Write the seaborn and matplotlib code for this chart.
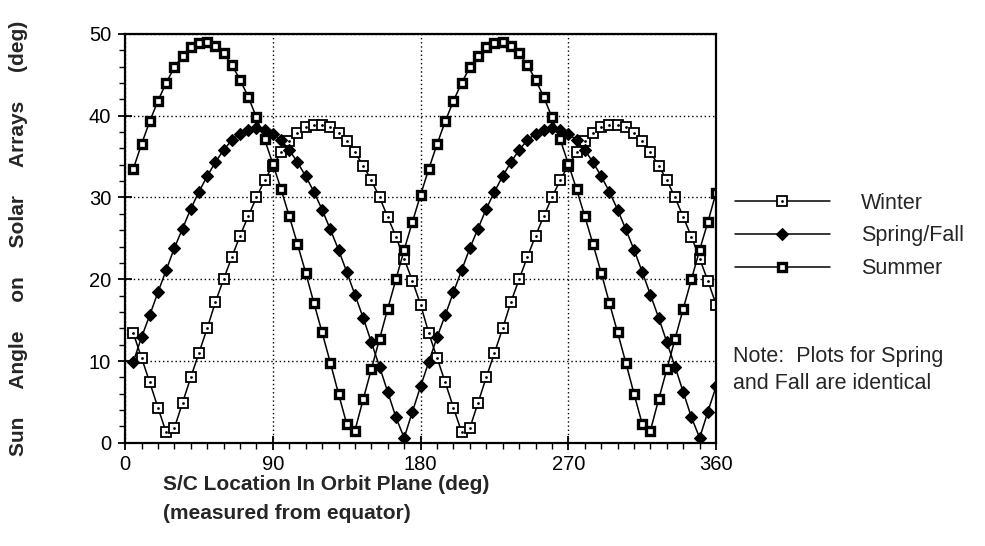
import matplotlib
matplotlib.use("Agg")
import matplotlib.pyplot as plt
import seaborn as sns

# orbit position (deg), sampled every 5 deg
angle = [5, 10, 15, 20, 25, 30, 35, 40, 45, 50, 55, 60, 65, 70, 75, 80, 85, 90,
         95, 100, 105, 110, 115, 120, 125, 130, 135, 140, 145, 150, 155, 160, 165, 170, 175, 180,
         185, 190, 195, 200, 205, 210, 215, 220, 225, 230, 235, 240, 245, 250, 255, 260, 265, 270,
         275, 280, 285, 290, 295, 300, 305, 310, 315, 320, 325, 330, 335, 340, 345, 350, 355, 360]

winter = [13.4, 10.4, 7.4, 4.3, 1.3, 1.8, 4.9, 8.0, 11.0, 14.0, 17.2, 20.0, 22.7, 25.3, 27.7, 30.0, 32.1, 33.9,
          35.5, 36.9, 37.9, 38.6, 38.9, 38.9, 38.6, 37.9, 36.9, 35.5, 33.9, 32.1, 30.0, 27.6, 25.2, 22.5, 19.8, 16.9,
          13.4, 10.4, 7.4, 4.3, 1.3, 1.8, 4.9, 8.0, 11.0, 14.0, 17.2, 20.0, 22.7, 25.3, 27.7, 30.0, 32.1, 33.9,
          35.5, 36.9, 37.9, 38.6, 38.9, 38.9, 38.6, 37.9, 36.9, 35.5, 33.9, 32.1, 30.0, 27.6, 25.2, 22.5, 19.8, 16.9]

spring_fall = [9.9, 12.9, 15.6, 18.4, 21.1, 23.8, 26.2, 28.6, 30.7, 32.6, 34.3, 35.8, 37.0, 37.8, 38.3, 38.5, 38.3, 37.8,
               37.0, 35.8, 34.3, 32.6, 30.7, 28.5, 26.1, 23.6, 20.9, 18.1, 15.3, 12.3, 9.3, 6.2, 3.1, 0.6, 3.8, 6.9,
               9.9, 12.9, 15.6, 18.4, 21.1, 23.8, 26.2, 28.6, 30.7, 32.6, 34.3, 35.8, 37.0, 37.8, 38.3, 38.5, 38.3, 37.8,
               37.0, 35.8, 34.3, 32.6, 30.7, 28.5, 26.1, 23.6, 20.9, 18.1, 15.3, 12.3, 9.3, 6.2, 3.1, 0.6, 3.8, 6.9]

summer = [33.5, 36.5, 39.3, 41.8, 44.0, 45.9, 47.3, 48.4, 48.9, 49.0, 48.5, 47.6, 46.2, 44.4, 42.3, 39.8, 37.1, 34.1,
          31.0, 27.7, 24.3, 20.8, 17.1, 13.5, 9.8, 6.0, 2.3, 1.5, 5.3, 9.0, 12.7, 16.4, 20.0, 23.6, 27.0, 30.3,
          33.5, 36.5, 39.3, 41.8, 44.0, 45.9, 47.3, 48.4, 48.9, 49.0, 48.5, 47.6, 46.2, 44.4, 42.3, 39.8, 37.1, 34.1,
          31.0, 27.7, 24.3, 20.8, 17.1, 13.5, 9.8, 6.0, 2.3, 1.5, 5.3, 9.0, 12.7, 16.4, 20.0, 23.6, 27.0, 30.6]

x_ticks = [0, 90, 180, 270, 360]
y_ticks = [0, 10, 20, 30, 40, 50]

sns.set_style("ticks")
plt.rcParams["font.family"] = ["Liberation Sans", "DejaVu Sans"]

fig, ax = plt.subplots(figsize=(9.85, 5.46), dpi=100)
fig.subplots_adjust(left=0.127, right=0.727, bottom=0.189, top=0.938)

# Winter: open squares with a dot in the middle
sns.lineplot(x=angle, y=winter, ax=ax, color="k", linewidth=1.1, errorbar=None,
             marker="s", markersize=6.5, markerfacecolor="w", markeredgecolor="k", markeredgewidth=1.3)
h_winter = ax.lines[-1]
sns.lineplot(x=angle, y=winter, ax=ax, color="k", linestyle="", errorbar=None,
             marker="o", markersize=2.0, markerfacecolor="k", markeredgecolor="k", markeredgewidth=0)
h_winter_dot = ax.lines[-1]

# Spring/Fall: filled diamonds
sns.lineplot(x=angle, y=spring_fall, ax=ax, color="k", linewidth=1.1, errorbar=None,
             marker="D", markersize=6.5, markerfacecolor="k", markeredgecolor="k", markeredgewidth=0.8)
h_spring = ax.lines[-1]

# Summer: heavy squares with small white centre
sns.lineplot(x=angle, y=summer, ax=ax, color="k", linewidth=1.1, errorbar=None,
             marker="s", markersize=6.0, markerfacecolor="w", markeredgecolor="k", markeredgewidth=2.4)
h_summer = ax.lines[-1]

ax.set_xlim(0, 360)
ax.set_ylim(0, 50)
ax.set_xticks(x_ticks)
ax.set_xticks(range(0, 361, 10), minor=True)
ax.set_yticks(y_ticks)
ax.set_yticks(range(0, 51, 2), minor=True)
ax.tick_params(which="major", direction="inout", length=10, width=1.3, labelsize=14.5, colors="k")
ax.tick_params(axis="x", which="major", pad=4)
ax.tick_params(axis="y", which="major", pad=5)
ax.tick_params(which="minor", direction="out", length=4, width=1.0, colors="k")
ax.grid(True, which="major", color="k", linestyle=(0, (1, 2)), linewidth=1.0)
for sp in ax.spines.values():
    sp.set_visible(True)
    sp.set_color("k")
    sp.set_linewidth(1.6)

ax.set_xlabel("")
ax.set_ylabel("Sun     Angle     on     Solar     Arrays     (deg)", fontsize=15, fontweight="bold")
ax.yaxis.set_label_coords(-0.165, 0.5)

fig.text(0.1655, 0.112, "S/C Location In Orbit Plane (deg)", fontsize=15, fontweight="bold",
         ha="left", va="center")
fig.text(0.1655, 0.060, "(measured from equator)", fontsize=15, fontweight="bold",
         ha="left", va="center")

ax.legend([(h_winter, h_winter_dot), h_spring, h_summer], ["Winter", "Spring/Fall", "Summer"],
          loc="center left", bbox_to_anchor=(0.746, 0.568), bbox_transform=fig.transFigure,
          frameon=False, fontsize=15.5, handlelength=4.4, handletextpad=1.45, labelspacing=0.55,
          borderpad=0, borderaxespad=0)

fig.text(0.744, 0.322, "Note:  Plots for Spring\nand Fall are identical", fontsize=15.5,
         ha="left", va="center", linespacing=1.4)

fig.savefig("out.png", dpi=100)
